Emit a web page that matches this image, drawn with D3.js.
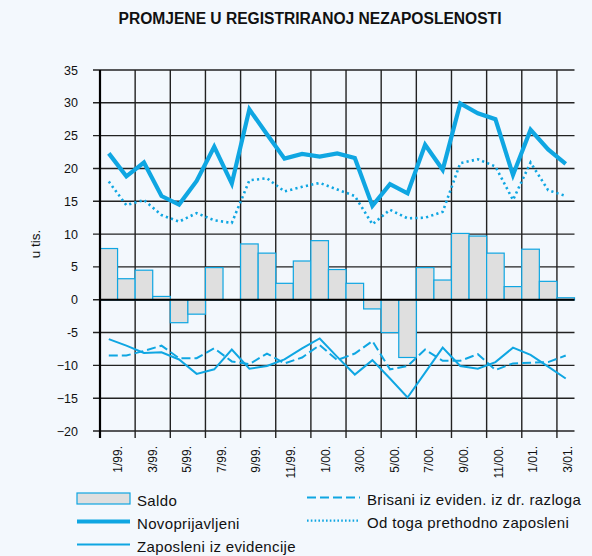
<!DOCTYPE html>
<html>
<head>
<meta charset="utf-8">
<script src="https://cdn.jsdelivr.net/npm/d3@7"></script>
<style>
  body { margin: 0; background: #f3f8fd; }
  svg { display: block; font-family: "Liberation Sans", Arial, sans-serif; }
</style>
</head>
<body>
<div id="chart"></div>
<script>
var months = ["1/99.","2/99.","3/99.","4/99.","5/99.","6/99.","7/99.","8/99.","9/99.","10/99.","11/99.","12/99.",
              "1/00.","2/00.","3/00.","4/00.","5/00.","6/00.","7/00.","8/00.","9/00.","10/00.","11/00.","12/00.",
              "1/01.","2/01.","3/01."];

// u tisućama
var saldo = [7.8, 3.2, 4.5, 0.5, -3.5, -2.2, 4.9, 0, 8.5, 7.1, 2.5, 5.9, 9.0, 4.6, 2.5, -1.4, -5.0, -8.8,
             4.9, 3.0, 10.1, 9.7, 7.1, 2.0, 7.7, 2.8, 0.3];
var novoprijavljeni = [22.3, 18.8, 20.9, 15.8, 14.5, 18.1, 23.3, 17.7, 29.0, 25.2, 21.5, 22.2, 21.8, 22.3,
                       21.6, 14.3, 17.6, 16.2, 23.6, 19.8, 29.9, 28.4, 27.5, 19.0, 25.9, 22.9, 20.7];
var odToga = [18.0, 14.4, 15.2, 12.9, 11.9, 13.2, 12.1, 11.7, 18.2, 18.5, 16.5, 17.2, 17.8, 16.8, 15.8, 11.5,
              13.7, 12.4, 12.5, 13.4, 20.8, 21.4, 20.3, 15.2, 20.9, 16.7, 15.8];
var zaposleni = [-6.0, -7.0, -8.1, -8.0, -9.1, -11.3, -10.6, -7.6, -10.5, -10.1, -9.1, -7.4, -5.9, -8.7,
                 -11.4, -9.2, -12.0, -14.9, -11.1, -7.3, -10.1, -10.5, -9.5, -7.3, -8.4, -10.2, -12.0];
var brisani = [-8.5, -8.5, -7.8, -7.0, -8.9, -8.9, -7.4, -9.4, -9.8, -8.2, -9.7, -8.8, -6.9, -9.2, -8.2, -6.3,
               -10.6, -10.1, -7.6, -9.3, -9.3, -8.3, -10.7, -9.7, -9.6, -9.5, -8.5];
var yTicks = [35, 30, 25, 20, 15, 10, 5, 0, -5, -10, -15, -20];
var yTickLabels = ["35","30","25","20","15","10","5","0","-5","\u221210","\u221215","\u221220"];

var width = 592, height = 556,
    margin = {top: 70, right: 17.5, bottom: 125, left: 100};

var blue = "#0fa6e2";

var svg = d3.select("#chart").append("svg")
  .attr("width", width)
  .attr("height", height);

svg.append("rect").attr("width", width).attr("height", height).attr("fill", "#f3f8fd");

var x = d3.scaleBand()
  .domain(d3.range(months.length))
  .range([margin.left, width - margin.right])
  .padding(0);
var bw = x.bandwidth();

var y = d3.scaleLinear()
  .domain([-20, 35])
  .range([height - margin.bottom, margin.top]);

// title
svg.append("text")
  .attr("x", 310)
  .attr("y", 24)
  .attr("text-anchor", "middle")
  .style("font-weight", "bold")
  .style("font-size", "15.6px")
  .attr("fill", "#111")
  .text("PROMJENE U REGISTRIRANOJ NEZAPOSLENOSTI");

// grid
var grid = svg.append("g");
grid.selectAll(".hg")
  .data(yTicks)
  .enter().append("line")
  .attr("x1", margin.left - 7)
  .attr("x2", width - margin.right)
  .attr("y1", function(d) { return y(d); })
  .attr("y2", function(d) { return y(d); })
  .attr("stroke", "#222")
  .attr("stroke-width", 1.4);

var vIdx = d3.range(2, months.length + 1, 2);
grid.selectAll(".vg")
  .data(vIdx)
  .enter().append("line")
  .attr("x1", function(i) { return margin.left + i * bw; })
  .attr("x2", function(i) { return margin.left + i * bw; })
  .attr("y1", y(35))
  .attr("y2", function(i) { return i < months.length ? y(-20) + 7 : y(-20); })
  .attr("stroke", "#222")
  .attr("stroke-width", 1.4);

// saldo bars
svg.append("g").selectAll("rect")
  .data(saldo)
  .enter().append("rect")
  .attr("x", function(d, i) { return x(i); })
  .attr("width", bw)
  .attr("y", function(d) { return y(Math.max(0, d)); })
  .attr("height", function(d) { return Math.abs(y(d) - y(0)); })
  .attr("fill", "#dfdfdf")
  .attr("stroke", blue)
  .attr("stroke-width", 1.2);

// zero line and left axis
svg.append("line")
  .attr("x1", margin.left).attr("x2", width - margin.right)
  .attr("y1", y(0)).attr("y2", y(0))
  .attr("stroke", "#000").attr("stroke-width", 2.2);
svg.append("line")
  .attr("x1", margin.left).attr("x2", margin.left)
  .attr("y1", y(35)).attr("y2", y(-20) + 7)
  .attr("stroke", "#000").attr("stroke-width", 2.2);

var line = d3.line()
  .x(function(d, i) { return x(i) + bw / 2; })
  .y(function(d) { return y(d); });

var series = [
  {values: odToga, width: 2.6, dash: "2.2,3.2"},
  {values: brisani, width: 2, dash: "9,4"},
  {values: zaposleni, width: 2, dash: null},
  {values: novoprijavljeni, width: 4.2, dash: null}
];

svg.append("g").selectAll("path")
  .data(series)
  .enter().append("path")
  .attr("d", function(d) { return line(d.values); })
  .attr("fill", "none")
  .attr("stroke", blue)
  .attr("stroke-width", function(d) { return d.width; })
  .attr("stroke-dasharray", function(d) { return d.dash; })
  .attr("stroke-linejoin", "miter");

// y labels
svg.append("g").selectAll("text")
  .data(yTicks)
  .enter().append("text")
  .attr("x", 78)
  .attr("y", function(d) { return y(d); })
  .attr("dy", "0.36em")
  .attr("text-anchor", "end")
  .style("font-size", "12.5px")
  .attr("fill", "#111")
  .text(function(d, i) { return yTickLabels[i]; });

svg.append("text")
  .attr("transform", "translate(35,244) rotate(-90)")
  .attr("dy", "0.35em")
  .attr("text-anchor", "middle")
  .style("font-size", "13.5px")
  .attr("fill", "#111")
  .text("u tis.");

// x labels
var shown = months.filter(function(d, i) { return i % 2 === 0; });
var xl = d3.scalePoint()
  .domain(shown)
  .range([margin.left + bw, width - margin.right - 7]);

svg.append("g").selectAll("text")
  .data(shown)
  .enter().append("text")
  .attr("transform", function(d) { return "translate(" + xl(d) + "," + (y(-20) + 15) + ") rotate(-90)"; })
  .attr("dy", "0.36em")
  .attr("text-anchor", "end")
  .style("font-size", "12px")
  .attr("fill", "#111")
  .text(function(d) { return d; });

// legend
var legend = svg.append("g").style("font-size", "15px");
var legItems = [
  {name: "Saldo", type: "bar", lx: 77, ly: 498.5},
  {name: "Novoprijavljeni", type: "line", w: 4.2, dash: null, lx: 77, ly: 521.5},
  {name: "Zaposleni iz evidencije", type: "line", w: 2, dash: null, lx: 77, ly: 544.5},
  {name: "Brisani iz eviden. iz dr. razloga", type: "line", w: 2, dash: "9,4", lx: 307, ly: 497.5},
  {name: "Od toga prethodno zaposleni", type: "line", w: 2.2, dash: "1.6,2.2", lx: 307, ly: 520.7}
];
legItems.forEach(function(d) {
  if (d.type === "bar") {
    legend.append("rect")
      .attr("x", d.lx).attr("y", d.ly - 5.5)
      .attr("width", 53).attr("height", 11)
      .attr("fill", "#dfdfdf").attr("stroke", blue).attr("stroke-width", 1.2);
  } else {
    legend.append("line")
      .attr("x1", d.lx).attr("x2", d.lx + 53)
      .attr("y1", d.ly).attr("y2", d.ly)
      .attr("stroke", blue).attr("stroke-width", d.w)
      .attr("stroke-dasharray", d.dash);
  }
  legend.append("text")
    .attr("x", d.lx + 60)
    .attr("y", d.ly + 7)
    .attr("fill", "#111")
    .style("letter-spacing", "0.35px")
    .text(d.name);
});
</script>
</body>
</html>
